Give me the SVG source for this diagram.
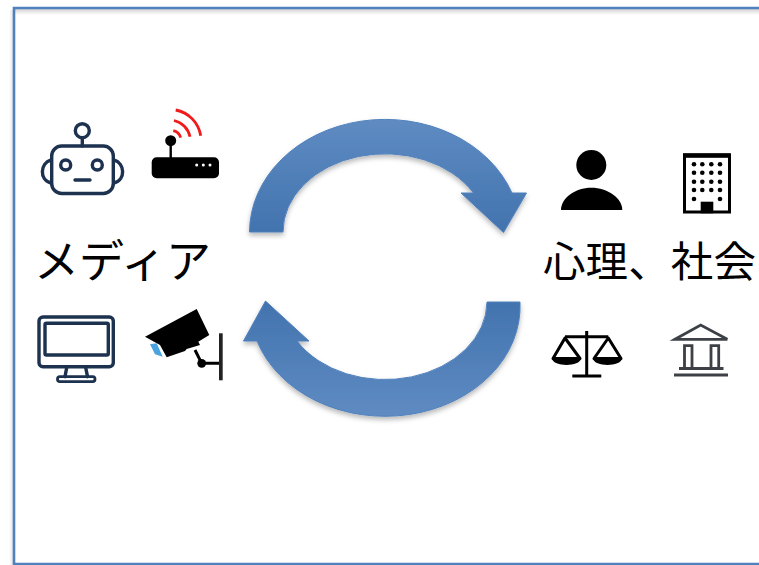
<svg xmlns="http://www.w3.org/2000/svg" width="759" height="565" viewBox="0 0 759 565">
<style>
.lbl{font-family:"Noto Sans CJK JP","Noto Sans",sans-serif;font-size:42.5px;fill:#000}
.navy{fill:none;stroke:#1c3050;stroke-width:3.4;stroke-linejoin:round;stroke-linecap:round}
.blk{fill:#000}
.ln{fill:none;stroke:#000;stroke-width:3}
.red{fill:none;stroke:#f01a1a;stroke-width:2.8}
.bank{fill:none;stroke:#3c4046;stroke-width:2.8}
.arrow{stroke:#4f81bd;stroke-width:1;filter:url(#sh)}
.ic{filter:url(#soft)}
</style>
<defs>
<linearGradient id="gTop" x1="0" y1="0" x2="0" y2="1"><stop offset="0" stop-color="#5f8bc2"/><stop offset="1" stop-color="#4273ae"/></linearGradient>
<linearGradient id="gBot" x1="0" y1="0" x2="0" y2="1"><stop offset="0" stop-color="#4273ae"/><stop offset="1" stop-color="#5f8bc2"/></linearGradient>
<linearGradient id="gStrip" x1="0" y1="0" x2="0" y2="1"><stop offset="0" stop-color="#d4d4d4"/><stop offset="1" stop-color="#ffffff"/></linearGradient>
<linearGradient id="gSide" x1="0" y1="0" x2="1" y2="0"><stop offset="0" stop-color="#ffffff"/><stop offset="1" stop-color="#dedede"/></linearGradient>
<filter id="sh" x="-15%" y="-15%" width="130%" height="135%"><feDropShadow dx="0" dy="3" stdDeviation="2.5" flood-color="#000" flood-opacity="0.28"/></filter>
<filter id="soft" x="-10%" y="-10%" width="120%" height="120%"><feGaussianBlur stdDeviation="0.5"/></filter>
</defs>
<rect width="759" height="565" fill="#fff"/>
<g id="frame">
<rect x="15" y="9" width="744" height="6" fill="url(#gStrip)"/>
<rect x="9" y="10" width="5" height="555" fill="url(#gSide)"/>
<path d="M759 8H14V564H759" fill="none" stroke="#4f81bd" stroke-width="2.6"/>
</g>
<g id="connectors">
<path class="arrow" fill="url(#gTop)" d="M249.5 232A135.5 113 0 0 1 512 193H526.5L503.5 232.5L461 193H473.5A102 78 0 0 0 283 232Z"/>
<path class="arrow" fill="url(#gBot)" d="M520 302A135 110 0 0 1 257 341H243.5L265.5 301L309 341H297A102 78 0 0 0 487 302Z"/>
</g>
<g id="robot" class="ic">
<rect x="51.7" y="146" width="61.6" height="47.5" rx="10" class="navy"/>
<path class="navy" d="M51 160C40 163 39 180 51 183M114 160C125 163 126 180 114 183M82.3 138V146M75 180H90"/>
<circle cx="82.3" cy="130.7" r="7" class="navy"/>
<circle cx="65.7" cy="165" r="5" class="navy"/>
<circle cx="97.3" cy="165" r="5" class="navy"/>
</g>
<g id="router" class="ic">
<rect x="151.7" y="157.3" width="67.3" height="21" rx="5" class="blk"/>
<circle cx="196.7" cy="165" r="1.5" fill="#fff"/><circle cx="203.3" cy="165" r="1.5" fill="#fff"/><circle cx="210" cy="165" r="1.5" fill="#fff"/>
<path d="M170.7 144V158" stroke="#000" stroke-width="2.4"/>
<circle cx="170.7" cy="140.7" r="5.5" class="blk"/>
<path class="red" d="M173.3 130.7A10 10 0 0 1 180.7 137.7M174 120.5A21 21 0 0 1 190 136.7M175.7 110A31 31 0 0 1 200.7 135.7"/>
</g>
<g id="media-label"><text class="lbl" x="34" y="278" style="font-size:45px" textLength="177" lengthAdjust="spacing">メディア</text></g>
<g id="monitor" class="ic">
<rect x="39" y="317" width="74.3" height="49.7" rx="4" class="navy"/>
<rect x="45" y="323.3" width="63.3" height="31.7" rx="1.5" class="navy"/>
<path class="navy" d="M66.7 367.5L65 376.7M85.7 367.5L87.5 376.7"/>
<rect x="57.5" y="376.7" width="37.5" height="5" rx="2.4" class="navy" style="stroke-width:2.8"/>
</g>
<g id="camera" class="ic">
<polygon class="blk" points="145,336.7 196.7,309 209.3,335 198.3,341.7 200,345 186.7,349 185,351 166.7,357.3 160,345"/>
<polygon fill="#4aa3df" points="150,344.3 156.7,343.3 162.7,356.7 155,354.3"/>
<path d="M195 350L201.7 363.3H220" fill="none" stroke="#000" stroke-width="3"/>
<circle cx="201.7" cy="363.3" r="4.4" class="blk"/>
<rect x="219" y="333.3" width="3.7" height="47" fill="#222"/>
</g>
<g id="person" class="ic">
<circle cx="591.3" cy="165" r="15" class="blk"/>
<path class="blk" d="M561 210C561 198 575 187.7 591.3 187.7S622.3 198 622.3 210Z"/>
</g>
<g id="building" class="ic">
<rect x="684.5" y="155" width="45" height="57" class="ln"/>
<rect x="683" y="153.3" width="47.7" height="4.5" class="blk"/>
<g class="blk">
<circle cx="694" cy="164.3" r="2.3"/><circle cx="702.3" cy="164.3" r="2.3"/><circle cx="711.3" cy="164.3" r="2.3"/><circle cx="720" cy="164.3" r="2.3"/>
<circle cx="694" cy="172.7" r="2.3"/><circle cx="702.3" cy="172.7" r="2.3"/><circle cx="711.3" cy="172.7" r="2.3"/><circle cx="720" cy="172.7" r="2.3"/>
<circle cx="694" cy="181.7" r="2.3"/><circle cx="702.3" cy="181.7" r="2.3"/><circle cx="711.3" cy="181.7" r="2.3"/><circle cx="720" cy="181.7" r="2.3"/>
<circle cx="694" cy="190" r="2.3"/><circle cx="702.3" cy="190" r="2.3"/><circle cx="711.3" cy="190" r="2.3"/><circle cx="720" cy="190" r="2.3"/>
<circle cx="694" cy="199" r="2.3"/><circle cx="720" cy="199" r="2.3"/>
<rect x="700.7" y="201.7" width="12.6" height="11.6"/>
</g>
</g>
<g id="psych-label"><text class="lbl" x="543" y="277" textLength="213" lengthAdjust="spacing">心理、社会</text></g>
<g id="scales" class="ic">
<path class="ln" d="M586.7 331V376.7M572.3 376H601.3M565 336.7H608.3"/>
<path class="ln" d="M565 338L553 358.5H580L565 338ZM608.3 338L594 358.5H621L608.3 338Z" stroke-linejoin="round"/>
<path class="blk" d="M552 358.5H581C580 367 553 367 552 358.5ZM593 358.5H622C621 367 594 367 593 358.5Z"/>
</g>
<g id="bank" class="ic">
<path class="bank" d="M675 339.3L700.7 325L727.3 339.3ZM684.5 368V345.7H692V368M711 368V345.7H718.7V368M679 368.5H723.5"/>
<path d="M674 375H728" stroke="#3c4046" stroke-width="3"/>
</g>
</svg>
